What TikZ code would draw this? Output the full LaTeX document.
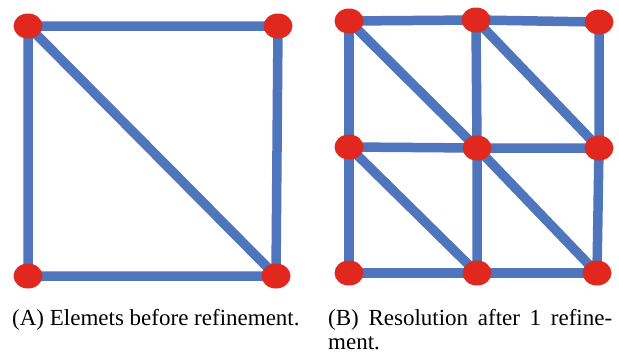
\documentclass[tikz,border=0pt]{standalone}
\usepackage{fontspec}
\setmainfont{Liberation Serif}
\usetikzlibrary{shapes.geometric,backgrounds}
\definecolor{edgeblue}{RGB}{79,117,189}
\definecolor{vertred}{RGB}{224,40,30}
\tikzset{
  vert/.style={ellipse,fill=vertred,inner sep=0pt,minimum width=29pt,minimum height=25pt},
  edge/.style={draw=edgeblue,line width=9.5pt},
  captext/.style={anchor=base west,inner sep=0pt,font=\fontsize{23}{25}\selectfont}
}
\begin{document}
\begin{tikzpicture}[x=1pt,y=-1pt]
\useasboundingbox (0,0) rectangle (619,354);
% left mesh
\node[vert] (a1) at (28,26) {};
\node[vert] (a2) at (278,26) {};
\node[vert] (a3) at (28,276) {};
\node[vert] (a4) at (276,276) {};
% right mesh
\node[vert] (b11) at (349,21) {};
\node[vert] (b12) at (476,20) {};
\node[vert] (b13) at (599,22) {};
\node[vert] (b21) at (349,147) {};
\node[vert] (b22) at (477,148) {};
\node[vert] (b23) at (599,148) {};
\node[vert] (b31) at (349,273) {};
\node[vert] (b32) at (477,273) {};
\node[vert] (b33) at (597,273) {};
\begin{scope}[on background layer]
\draw[edge] (a1.center) -- (a2.center) -- (a4.center) -- (a3.center) -- cycle;
\draw[edge] (a1.center) -- (a4.center);
\draw[edge] (b11.center) -- (b12.center) -- (b13.center);
\draw[edge] (b21.center) -- (b22.center) -- (b23.center);
\draw[edge] (b31.center) -- (b32.center) -- (b33.center);
\draw[edge] (b11.center) -- (b21.center) -- (b31.center);
\draw[edge] (b12.center) -- (b22.center) -- (b32.center);
\draw[edge] (b13.center) -- (b23.center) -- (b33.center);
\draw[edge] (b11.center) -- (b22.center) -- (b33.center);
\draw[edge] (b12.center) -- (b23.center);
\draw[edge] (b21.center) -- (b32.center);
\end{scope}
% captions
\node[captext] (capA) at (12,325) {(A) Elemets before refinement.};
\node[captext] (capB1) at (328,325) {\makebox[284pt][s]{(B) Resolution after 1 refine-}};
\node[captext] (capB2) at (328,349) {ment.};
\end{tikzpicture}
\end{document}
